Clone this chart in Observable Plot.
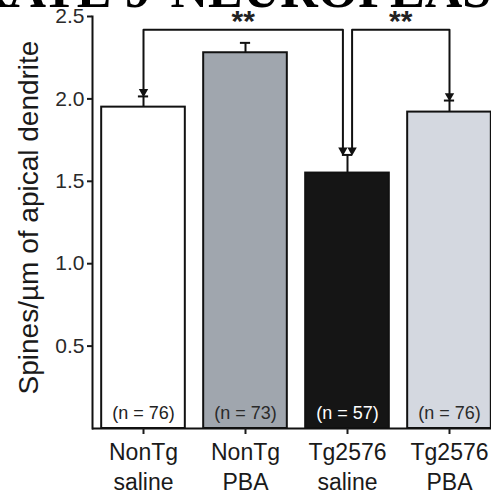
<!DOCTYPE html>
<html>
<head>
<meta charset="utf-8">
<script src="https://cdn.jsdelivr.net/npm/d3@7"></script>
<script src="https://cdn.jsdelivr.net/npm/@observablehq/plot@0.6"></script>
<style>
  html, body { margin: 0; padding: 0; background: #fff; overflow: hidden; }
</style>
</head>
<body>
<div id="chart"></div>
<script>
// ---- data ----
const groupLine1 = ["NonTg", "NonTg", "Tg2576", "Tg2576"];
const groupLine2 = ["saline", "PBA", "saline", "PBA"];
const means = [1.95, 2.28, 1.55, 1.92];
const sems = [0.065, 0.06, 0.11, 0.07];
const nCounts = [76, 73, 57, 76];
const barColors = ["#ffffff", "#a0a6ae", "#151515", "#d4d8e0"];
const nTextColors = ["#222222", "#2a2a2a", "#ffffff", "#2a2a2a"];
const yTicks = [0.5, 1.0, 1.5, 2.0, 2.5];
const yLabel = "Spines/µm of apical dendrite";
const headerLeft = "RATE 9";
const headerRight = "NEUROPLAS";
// significance brackets: from group, to group, bracket height, label
const bracketFrom = [0, 2];
const bracketTo = [2, 3];
const bracketLevel = [2.42, 2.42];
const bracketLabel = ["**", "**"];

// ---- derived tables ----
const rows = means.map((m, i) => ({i, mean: m, top: m + sems[i], n: nCounts[i], color: barColors[i], tc: nTextColors[i]}));
const halfBar = 0.41, capHalf = 0.05, pairGap = 0.045;
const bracketPts = [];
const tips = [];
const starPos = [];
bracketFrom.forEach((f, b) => {
  const t = bracketTo[b];
  const xf = f + (f === 2 ? pairGap : 0);
  const xt = t - (t === 2 ? pairGap : 0);
  const yf = rows[f].top + 0.01, yt = rows[t].top + 0.01;
  bracketPts.push({b, x: xf, y: yf}, {b, x: xf, y: bracketLevel[b]}, {b, x: xt, y: bracketLevel[b]}, {b, x: xt, y: yt});
  tips.push({x: xf, y: yf}, {x: xt, y: yt});
  starPos.push({x: (xf + xt) / 2, y: bracketLevel[b], label: bracketLabel[b]});
});

const chart = Plot.plot({
  width: 491,
  height: 497,
  marginLeft: 92,
  marginRight: 0,
  marginTop: 16,
  marginBottom: 69,
  style: {fontFamily: "'Liberation Sans', Arial, sans-serif", color: "#1a1a1a", background: "white", overflow: "hidden"},
  x: {domain: [-0.5, 3.5], range: [92, 500], axis: null},
  y: {domain: [0, 2.5], axis: null},
  color: {type: "identity"},
  marks: [
    Plot.rectY(rows, {x1: d => d.i - halfBar, x2: d => d.i + halfBar, y1: 0, y2: "mean", fill: "color", stroke: "#111", strokeWidth: 2}),
    Plot.ruleX(rows, {x: "i", y1: "mean", y2: "top", stroke: "#111", strokeWidth: 2}),
    Plot.ruleY(rows, {y: "top", x1: d => d.i - capHalf, x2: d => d.i + capHalf, stroke: "#111", strokeWidth: 2}),
    Plot.line(bracketPts, {x: "x", y: "y", z: "b", stroke: "#111", strokeWidth: 2}),
    Plot.dot(tips, {x: "x", y: "y", symbol: "triangle", rotate: 180, r: 3.5, fill: "#111", dy: -3}),
    Plot.text(starPos, {x: "x", y: "y", text: "label", dy: 1, lineAnchor: "bottom", fontSize: 30, fontWeight: "bold", fill: "#222"}),
    Plot.text(rows, {x: "i", y: 0, dy: -10, lineAnchor: "bottom", text: d => `(n = ${d.n})`, fill: "tc", fontSize: 18}),
    Plot.ruleY([0], {stroke: "#111", strokeWidth: 2}),
    Plot.frame({anchor: "left", stroke: "#111", strokeWidth: 2}),
    Plot.axisY({ticks: yTicks, tickSize: 5, tickPadding: 3, fontSize: 21, tickFormat: d3.format(".1f"), label: null, strokeWidth: 2, fill: "#2a2a2a"}),
    Plot.axisX({ticks: [0, 1, 2, 3], tickFormat: i => groupLine1[i] + "\n" + groupLine2[i], tickSize: 6, tickPadding: 4, fontSize: 23, lineHeight: 1.3, label: null, strokeWidth: 2, fill: "#1a1a1a"}),
    Plot.text([yLabel], {text: d => d, frameAnchor: "left", rotate: -90, dx: -55, dy: -5, textAnchor: "middle", lineAnchor: "bottom", fontSize: 28, fill: "#1a1a1a"}),
    Plot.text([headerLeft], {text: d => d, frameAnchor: "top-left", dx: 58, dy: -10, textAnchor: "end", lineAnchor: "bottom", fontSize: 52, fontWeight: "bold", fontFamily: "'Liberation Serif', 'DejaVu Serif', serif", fill: "#000"}),
    Plot.text([headerRight], {text: d => d, frameAnchor: "top-left", dx: 78, dy: -10, textAnchor: "start", lineAnchor: "bottom", fontSize: 52, fontWeight: "bold", fontFamily: "'Liberation Serif', 'DejaVu Serif', serif", fill: "#000"})
  ]
});
document.getElementById("chart").appendChild(chart);
</script>
</body>
</html>
